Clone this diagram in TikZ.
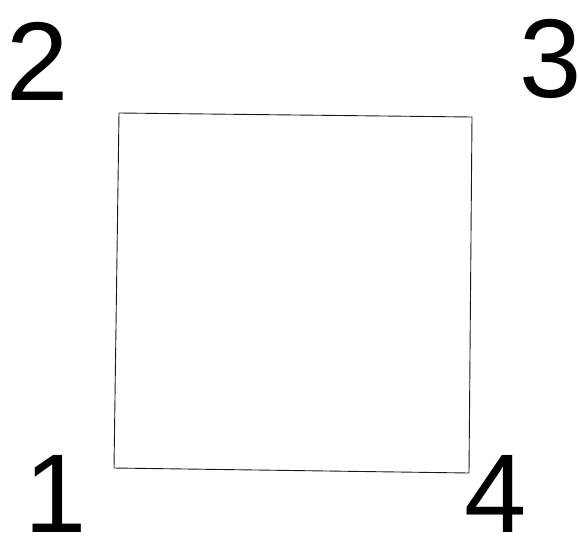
\documentclass[tikz,border=0pt]{standalone}
\usepackage{fontspec}
\setmainfont{Liberation Sans}
\usepackage{tikz}
\usetikzlibrary{positioning}

\begin{document}
\begin{tikzpicture}[
  x=1pt, y=-1pt,
  num/.style={font=\fontsize{112}{112}\selectfont, inner sep=0pt, anchor=base},
  edge/.style={draw=black!90, line width=0.9pt},
]
\useasboundingbox (0,0) rectangle (578,538);
\clip (0,0) rectangle (578,538);

%% ===== CORNERS =====
\coordinate (c1) at (114,468);
\coordinate (c2) at (119,113);
\coordinate (c3) at (472,117);
\coordinate (c4) at (469,473);

%% ===== SQUARE =====
\draw[edge] (c1) -- (c2) -- (c3) -- (c4) -- cycle;

%% ===== LABELS =====
\node[num] (n2) at (38,100) {2};
\node[num] (n3) at (551,97) {3};
\node[num] (n1) at (56,532) {1};
\node[num] (n4) at (496,532) {4};

\end{tikzpicture}
\end{document}
